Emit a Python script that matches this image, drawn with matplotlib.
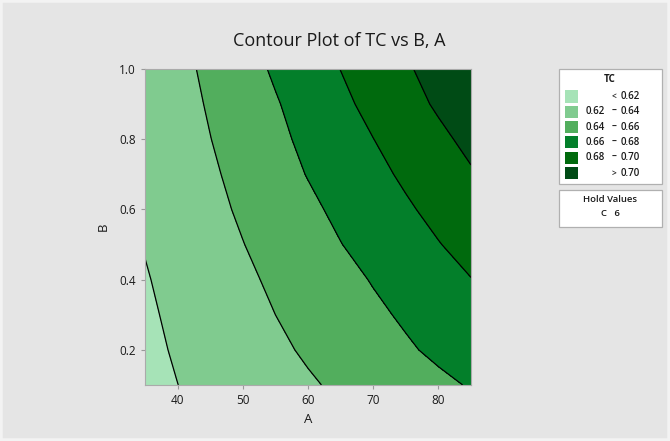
import numpy as np
import matplotlib.pyplot as plt
from matplotlib.patches import Rectangle
from matplotlib.colors import ListedColormap, BoundaryNorm

plt.rcParams['font.family'] = ['Open Sans', 'DejaVu Sans']

# grid
A = [35, 40, 45, 50, 55, 60, 65, 70, 75, 80, 85]
B = [0.1, 0.2, 0.3, 0.4, 0.5, 0.6, 0.7, 0.8, 0.9, 1.0]
TC = [
    [0.6154, 0.6199, 0.6245, 0.6290, 0.6335, 0.6381, 0.6427, 0.6473, 0.6519, 0.6565, 0.6612],  # B=0.1
    [0.6164, 0.6215, 0.6267, 0.6318, 0.6369, 0.6421, 0.6474, 0.6526, 0.6579, 0.6632, 0.6684],  # B=0.2
    [0.6175, 0.6231, 0.6288, 0.6344, 0.6400, 0.6456, 0.6512, 0.6568, 0.6623, 0.6679, 0.6735],  # B=0.3
    [0.6189, 0.6249, 0.6308, 0.6368, 0.6428, 0.6488, 0.6549, 0.6610, 0.6672, 0.6734, 0.6796],  # B=0.4
    [0.6207, 0.6268, 0.6332, 0.6396, 0.6463, 0.6529, 0.6596, 0.6662, 0.6728, 0.6793, 0.6859],  # B=0.5
    [0.6214, 0.6284, 0.6354, 0.6424, 0.6494, 0.6565, 0.6637, 0.6707, 0.6777, 0.6848, 0.6917],  # B=0.6
    [0.6219, 0.6296, 0.6374, 0.6452, 0.6530, 0.6607, 0.6680, 0.6753, 0.6828, 0.6906, 0.6984],  # B=0.7
    [0.6233, 0.6315, 0.6397, 0.6478, 0.6559, 0.6640, 0.6719, 0.6798, 0.6880, 0.6962, 0.7044],  # B=0.8
    [0.6250, 0.6333, 0.6417, 0.6502, 0.6586, 0.6674, 0.6761, 0.6849, 0.6936, 0.7023, 0.7110],  # B=0.9
    [0.6255, 0.6347, 0.6439, 0.6531, 0.6623, 0.6713, 0.6802, 0.6890, 0.6979, 0.7067, 0.7156],  # B=1.0
]

levels = [0.62, 0.64, 0.66, 0.68, 0.70]
colors = ['#a6e3b7', '#80cb8f', '#52ae5d', '#037f2a', '#006a0d', '#004b15']
leg_left = ['', '0.62', '0.64', '0.66', '0.68', '']
leg_mid = ['<', '\u2013', '\u2013', '\u2013', '\u2013', '>']
leg_right = ['0.62', '0.64', '0.66', '0.68', '0.70', '0.70']

fig = plt.figure(figsize=(6.7, 4.41), dpi=100, facecolor='#e5e5e5')
fig.patches.append(Rectangle((0.0, 0.0), 1.0, 1.0, transform=fig.transFigure,
                             fill=False, edgecolor='#f3f3f3', linewidth=4))
ax = fig.add_axes([0.2164, 0.127, 0.4866, 0.7165])

bounds = [0.5] + levels + [0.8]
cmap = ListedColormap(colors)
norm = BoundaryNorm(bounds, cmap.N)
ax.contourf(A, B, TC, levels=bounds, cmap=cmap, norm=norm)
ax.contour(A, B, TC, levels=levels, colors='black', linewidths=0.9)

ax.set_xlim(35, 85)
ax.set_ylim(0.1, 1.0)
ax.set_xticks([40, 50, 60, 70, 80])
ax.set_yticks([0.2, 0.4, 0.6, 0.8, 1.0])
ax.set_yticklabels(['0.2', '0.4', '0.6', '0.8', '1.0'])
ax.tick_params(labelsize=8.5, colors='#999999', labelcolor='#1a1a1a', length=3, width=0.8)
for s in ax.spines.values():
    s.set_color('#aaaaaa')
    s.set_linewidth(0.8)
ax.set_xlabel('A', fontsize=9.5, color='#1a1a1a', labelpad=4)
ax.set_ylabel('B', fontsize=9.5, color='#1a1a1a', labelpad=7)

fig.text(0.507, 0.907, 'Contour Plot of TC vs B, A', ha='center', va='center',
         fontsize=13, color='#1a1a1a')

# legend box
def box(x0, y0, x1, y1):
    fig.patches.append(Rectangle((x0 / 670, 1 - y1 / 441), (x1 - x0) / 670, (y1 - y0) / 441,
                                 transform=fig.transFigure, facecolor='white',
                                 edgecolor='#b0b0b0', linewidth=0.9))

box(559, 69, 662, 184)
fig.text(610 / 670, 1 - 80 / 441, 'TC', ha='center', va='center', fontsize=7,
         fontweight='bold', color='#1a1a1a')
for i, c in enumerate(colors):
    yc = 96.5 + i * 15.3
    fig.patches.append(Rectangle((565 / 670, 1 - (yc + 6) / 441), 13 / 670, 12 / 441,
                                 transform=fig.transFigure, facecolor=c, edgecolor='none'))
    fig.text(605 / 670, 1 - yc / 441, leg_left[i], ha='right', va='center',
             fontsize=7, fontweight='semibold', color='#1a1a1a')
    fig.text(614 / 670, 1 - yc / 441, leg_mid[i], ha='center', va='center',
             fontsize=6 if i in (0, 5) else 7, fontweight='semibold', color='#1a1a1a')
    fig.text(621 / 670, 1 - yc / 441, leg_right[i], ha='left', va='center',
             fontsize=7, fontweight='semibold', color='#1a1a1a')

box(559, 190, 662, 227)
fig.text(610 / 670, 1 - 200 / 441, 'Hold Values', ha='center', va='center',
         fontsize=6.8, fontweight='semibold', color='#1a1a1a')
fig.text(610 / 670, 1 - 214 / 441, 'C   6', ha='center', va='center',
         fontsize=6.8, fontweight='semibold', color='#1a1a1a')

fig.savefig('out.png', dpi=100, facecolor=fig.get_facecolor())
